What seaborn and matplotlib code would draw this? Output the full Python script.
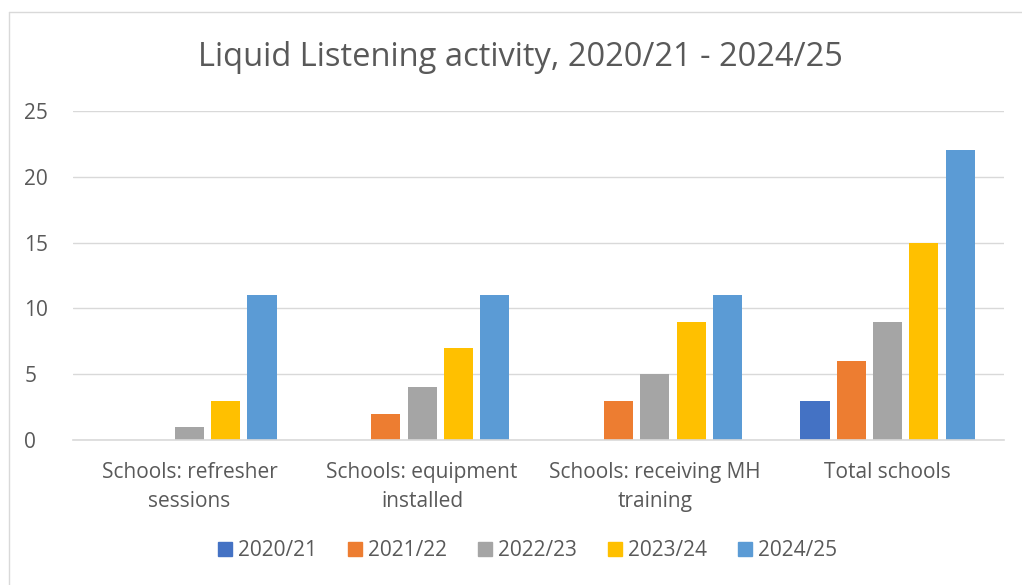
import numpy as np
import pandas as pd
import matplotlib
matplotlib.use('Agg')
import matplotlib.pyplot as plt
import seaborn as sns
from matplotlib.lines import Line2D

categories = ['Schools: refresher\nsessions', 'Schools: equipment\ninstalled',
              'Schools: receiving MH\ntraining', 'Total schools']
years = ['2020/21', '2021/22', '2022/23', '2023/24', '2024/25']
v_2020 = [0, 0, 0, 3]
v_2021 = [0, 2, 3, 6]
v_2022 = [1, 4, 5, 9]
v_2023 = [3, 7, 9, 15]
v_2024 = [11, 11, 11, 22]
yticks = [0, 5, 10, 15, 20, 25]

palette = ['#4472C4', '#ED7D31', '#A5A5A5', '#FFC000', '#5B9BD5']

rows = []
for yr, vals in zip(years, [v_2020, v_2021, v_2022, v_2023, v_2024]):
    for cat, v in zip(categories, vals):
        rows.append({'category': cat, 'year': yr, 'value': v})
df = pd.DataFrame(rows)

sns.set_theme(style='white')
plt.rcParams['font.family'] = ['Open Sans', 'DejaVu Sans']
text_col = '#595959'

fig = plt.figure(figsize=(10.22, 5.85), dpi=100)
ax = fig.add_axes([73 / 1022, 1 - 440 / 585, (1004 - 73) / 1022, (440 - 111) / 585])

sns.barplot(data=df, x='category', y='value', hue='year', hue_order=years,
            palette=palette, width=0.78, gap=0.2, saturation=1,
            linewidth=0, legend=False, ax=ax)

ax.set_ylim(0, 25)
ax.set_xlim(-0.5, 3.5)
ax.set_yticks(yticks)
ax.yaxis.grid(True, color='#D9D9D9', linewidth=1)
ax.set_axisbelow(True)
for s in ['top', 'right', 'left']:
    ax.spines[s].set_visible(False)
ax.spines['bottom'].set_color('#D9D9D9')
ax.spines['bottom'].set_linewidth(1.2)
ax.tick_params(axis='both', length=0, labelsize=15, labelcolor=text_col)
ax.tick_params(axis='y', pad=35)
ax.tick_params(axis='x', pad=16)
for lbl in ax.get_yticklabels():
    lbl.set_horizontalalignment('left')
ax.set_xlabel('')
ax.set_ylabel('')
for lbl in ax.get_xticklabels():
    lbl.set_linespacing(1.5)

fig.text(520 / 1022, 1 - 58 / 585, 'Liquid Listening activity, 2020/21 - 2024/25',
         ha='center', va='center', fontsize=23.5, color=text_col)

handles = [Line2D([0], [0], marker='s', linestyle='', markersize=10,
                  markerfacecolor=c, markeredgecolor=c) for c in palette]
fig.legend(handles, years, loc='center', bbox_to_anchor=(526 / 1022, 1 - 551 / 585),
           ncol=5, frameon=False, fontsize=15, handletextpad=0.1, columnspacing=1.35,
           handlelength=1.0, labelcolor=text_col)

# outer chart border (top and left visible)
fig.add_artist(Line2D([9 / 1022, 9 / 1022], [0, 1 - 12 / 585], transform=fig.transFigure,
                      color='#D9D9D9', linewidth=1))
fig.add_artist(Line2D([9 / 1022, 1], [1 - 12 / 585, 1 - 12 / 585], transform=fig.transFigure,
                      color='#D9D9D9', linewidth=1))

fig.savefig('out.png', dpi=100)
